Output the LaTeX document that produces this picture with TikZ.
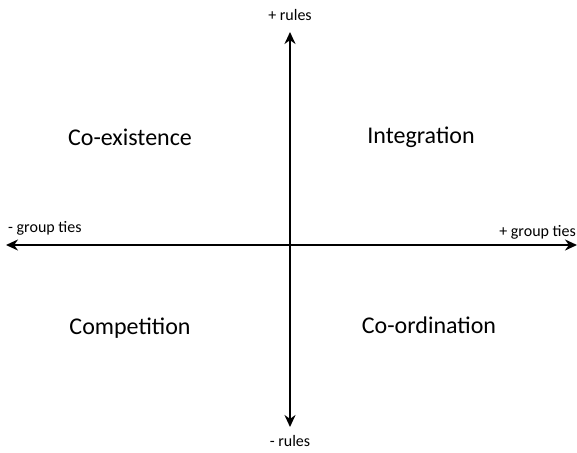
\documentclass[tikz,border=0pt]{standalone}
\usepackage{fontspec}
\setmainfont{Carlito}
\usepackage{tikz}
\usetikzlibrary{arrows.meta}

\begin{document}
\begin{tikzpicture}[x=1pt,y=-1pt]
	\tikzstyle{axis}=[line width=2.8pt, {Stealth[length=12pt,width=11pt]}-{Stealth[length=12pt,width=11pt]}]
	\tikzstyle{pole}=[inner sep=0pt, font=\fontsize{16}{18}\selectfont]
	\tikzstyle{quad}=[inner sep=0pt, font=\fontsize{24}{28}\selectfont]
	\useasboundingbox (0,0) rectangle (577,452);
	% axis end points
	\coordinate (top) at (290,32);
	\coordinate (bot) at (290,427);
	\coordinate (lft) at (6,245);
	\coordinate (rgt) at (577,245);
	\draw [axis] (bot) -- (top);
	\draw [axis] (lft) -- (rgt);
	% axis labels
	\node [pole] (rplus)  at (290,15)  {+ rules};
	\node [pole] (rminus) at (290,441) {- rules};
	\node [pole, anchor=west] (gminus) at (8,228)  {- group ties};
	\node [pole, anchor=east] (gplus)  at (576,232) {+ group ties};
	% quadrants
	\node [quad] (coex)  at (130,137) {Co-existence};
	\node [quad] (integ) at (421,137) {Integration};
	\node [quad] (comp)  at (130,328) {Competition};
	\node [quad] (coord) at (429,325) {Co-ordination};
\end{tikzpicture}
\end{document}
